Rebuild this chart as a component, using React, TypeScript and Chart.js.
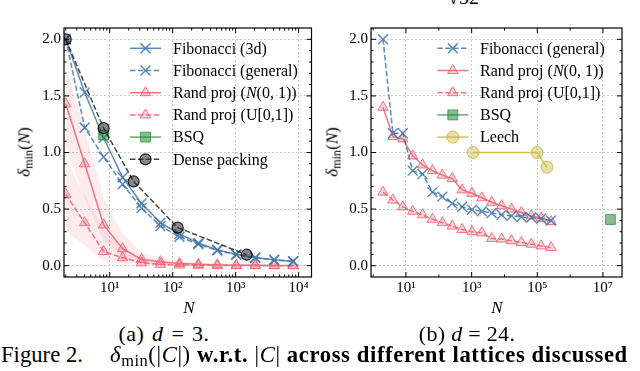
import React, { useEffect, useRef } from 'react';
import { Chart, registerables } from 'chart.js';
Chart.register(...registerables);

// ---------- (a) d = 3 ----------
const nA = [2, 4, 8, 16, 32, 64, 128, 256, 512, 1024, 2048, 4096, 8192];
const fib3dA = [2.0, 1.53, 1.13, 0.78, 0.55, 0.38, 0.28, 0.2, 0.14, 0.1, 0.072, 0.052, 0.04];
const fibGenA = [2.0, 1.22, 0.96, 0.72, 0.51, 0.35, 0.255, 0.19, 0.135, 0.097, 0.068, 0.05, 0.037];
const randNA = [1.43, 0.9, 0.36, 0.15, 0.055, 0.035, 0.02, 0.012, 0.007, 0.004, 0.003, 0.002, 0.001];
const randUA = [0.63, 0.38, 0.125, 0.07, 0.025, 0.012, 0.006, 0.004, 0.002, 0.001, 0.001, 0.0, 0.0];
const randNHiA = [1.75, 1.2, 0.6, 0.28, 0.12, 0.07, 0.045, 0.03, 0.02, 0.015, 0.01, 0.008, 0.006];
const randNLoA = [1.05, 0.6, 0.22, 0.08, 0.02, 0.01, 0.005, 0.002, 0.001, 0, 0, 0, 0];
const randUHiA = [0.95, 0.62, 0.32, 0.16, 0.07, 0.04, 0.02, 0.012, 0.008, 0.005, 0.004, 0.003, 0.002];
const randULoA = [0.3, 0.18, 0.04, 0.02, 0.005, 0.002, 0.001, 0, 0, 0, 0, 0, 0];
const bsqNA = [8];
const bsqA = [1.155];
const denseNA = [2, 8, 24, 120, 1500];
const denseA = [2.0, 1.215, 0.744, 0.336, 0.097];

// ---------- (b) d = 24 ----------
const nB = [2, 4, 8, 16, 32, 64, 128, 256, 512, 1024, 2048, 4096, 8192, 16384, 32768, 65536, 131072, 262144];
const fibGenB = [2.0, 1.17, 1.17, 0.84, 0.81, 0.65, 0.61, 0.55, 0.52, 0.495, 0.48, 0.465, 0.45, 0.44, 0.43, 0.425, 0.415, 0.4];
const randNB = [1.4, 1.14, 1.12, 0.97, 0.89, 0.84, 0.8, 0.77, 0.67, 0.64, 0.6, 0.56, 0.53, 0.5, 0.47, 0.44, 0.42, 0.39];
const randUB = [0.65, 0.58, 0.52, 0.48, 0.45, 0.41, 0.38, 0.35, 0.32, 0.3, 0.29, 0.24, 0.235, 0.22, 0.205, 0.19, 0.175, 0.16];
const bsqNB = [16777216];
const bsqB = [0.408];
const leechNB = [1104, 98280, 196560];
const leechB = [1.0, 1.0, 0.87];

// ---------- ticks ----------
const yTickVals = [0, 0.5, 1.0, 1.5, 2.0];
const yTickLabels = ['0.0', '0.5', '1.0', '1.5', '2.0'];
const xTickValsA = [10, 100, 1000, 10000];
const xTickLabelsA = ['10¹', '10²', '10³', '10⁴'];
const xTickValsB = [10, 1e3, 1e5, 1e7];
const xTickLabelsB = ['10¹', '10³', '10⁵', '10⁷'];
const xMinorA: number[] = [];
for (const d of [1, 10, 100, 1000, 10000]) for (let m = 2; m <= 9; m++) xMinorA.push(d * m);
const xMinorB = [1, 100, 1e4, 1e6];
const yMinor: number[] = [];
for (let k = 1; k < 21; k++) if (k % 5 !== 0) yMinor.push(k / 10);

// ---------- styles ----------
const FONT = '"Liberation Serif", "Times New Roman", serif';
const BLUE = 'rgba(68,119,170,0.85)';
const RED = 'rgba(238,102,119,0.9)';
const RED_FILL = 'rgba(238,102,119,0.28)';
const BAND = 'rgba(238,102,119,0.12)';
const GREEN = 'rgba(34,136,51,0.7)';
const GREEN_FILL = 'rgba(34,136,51,0.55)';
const YEL = 'rgba(204,187,68,0.9)';
const YEL_FILL = 'rgba(204,187,68,0.45)';
const BLACK = 'rgba(0,0,0,0.72)';
const DASH = [5.5, 2.4];

type St = { color: string; dash: number[]; marker: string; r: number; fill: string; border: string; bw: number };
const S: Record<string, St> = {
  fib3d: { color: BLUE, dash: [], marker: 'crossRot', r: 7, fill: BLUE, border: BLUE, bw: 1.5 },
  fibGen: { color: BLUE, dash: DASH, marker: 'crossRot', r: 7, fill: BLUE, border: BLUE, bw: 1.5 },
  randN: { color: RED, dash: [], marker: 'triangle', r: 6, fill: RED_FILL, border: RED, bw: 1 },
  randU: { color: RED, dash: DASH, marker: 'triangle', r: 6, fill: RED_FILL, border: RED, bw: 1 },
  bsq: { color: GREEN, dash: [], marker: 'rect', r: 7, fill: GREEN_FILL, border: GREEN, bw: 1 },
  dense: { color: BLACK, dash: DASH, marker: 'circle', r: 5.5, fill: 'rgba(40,40,40,0.55)', border: 'rgba(0,0,0,0.85)', bw: 1.2 },
  leech: { color: YEL, dash: [], marker: 'circle', r: 6, fill: YEL_FILL, border: YEL, bw: 1 },
};

function series(xs: number[], ys: number[], st: St) {
  return {
    data: xs.map((x, i) => ({ x, y: ys[i] })),
    borderColor: st.color,
    borderWidth: 1.5,
    borderDash: st.dash,
    pointStyle: st.marker,
    pointRadius: st.r,
    pointHoverRadius: st.r,
    pointBorderColor: st.border,
    pointBackgroundColor: st.fill,
    pointBorderWidth: st.bw,
    fill: false,
    tension: 0,
  };
}
function band(xs: number[], hi: number[], lo: number[]) {
  return [
    { data: xs.map((x, i) => ({ x, y: hi[i] })), borderColor: 'rgba(0,0,0,0)', borderWidth: 1, pointRadius: 0, fill: false },
    { data: xs.map((x, i) => ({ x, y: lo[i] })), borderColor: 'rgba(0,0,0,0)', borderWidth: 1, pointRadius: 0, fill: '-1', backgroundColor: BAND },
  ];
}

type Run = { t: string; it?: boolean };
function drawMarker(ctx: CanvasRenderingContext2D, st: St, x: number, y: number) {
  ctx.save();
  ctx.setLineDash([]);
  ctx.lineWidth = st.bw;
  ctx.strokeStyle = st.border;
  ctx.fillStyle = st.fill;
  ctx.beginPath();
  const r = st.r;
  if (st.marker === 'crossRot') {
    const d = r * Math.SQRT1_2;
    ctx.moveTo(x - d, y - d); ctx.lineTo(x + d, y + d);
    ctx.moveTo(x - d, y + d); ctx.lineTo(x + d, y - d);
    ctx.stroke();
  } else if (st.marker === 'triangle') {
    ctx.moveTo(x, y - r);
    ctx.lineTo(x + r * Math.sin((2 * Math.PI) / 3), y - r * Math.cos((2 * Math.PI) / 3));
    ctx.lineTo(x + r * Math.sin((4 * Math.PI) / 3), y - r * Math.cos((4 * Math.PI) / 3));
    ctx.closePath(); ctx.fill(); ctx.stroke();
  } else if (st.marker === 'rect') {
    const s = r * Math.SQRT1_2;
    ctx.rect(x - s, y - s, 2 * s, 2 * s); ctx.fill(); ctx.stroke();
  } else {
    ctx.arc(x, y, r, 0, Math.PI * 2); ctx.fill(); ctx.stroke();
  }
  ctx.restore();
}
function drawRuns(ctx: CanvasRenderingContext2D, runs: Run[], x: number, y: number, size: number) {
  ctx.save();
  ctx.fillStyle = '#000';
  ctx.textBaseline = 'alphabetic';
  ctx.textAlign = 'left';
  let cx = x;
  for (const r of runs) {
    ctx.font = `${r.it ? 'italic ' : ''}${size}px ${FONT}`;
    ctx.fillText(r.t, cx, y);
    cx += ctx.measureText(r.t).width;
  }
  ctx.restore();
}

const framePlugin = {
  id: 'frameLegend',
  afterDraw(chart: any, _a: any, o: any) {
    const ctx: CanvasRenderingContext2D = chart.ctx;
    const ca = chart.chartArea;
    const xs = chart.scales.x;
    const ys = chart.scales.y;
    ctx.save();
    ctx.strokeStyle = '#000';
    ctx.lineWidth = 1;
    ctx.setLineDash([]);
    ctx.beginPath();
    const xt = (vals: number[], len: number) => {
      for (const v of vals) {
        const p = xs.getPixelForValue(v);
        if (p <= ca.left + 0.5 || p >= ca.right - 0.5) continue;
        ctx.moveTo(p, ca.bottom); ctx.lineTo(p, ca.bottom - len);
        ctx.moveTo(p, ca.top); ctx.lineTo(p, ca.top + len);
      }
    };
    const yt = (vals: number[], len: number) => {
      for (const v of vals) {
        const p = ys.getPixelForValue(v);
        if (p <= ca.top + 0.5 || p >= ca.bottom - 0.5) continue;
        ctx.moveTo(ca.left, p); ctx.lineTo(ca.left + len, p);
        ctx.moveTo(ca.right, p); ctx.lineTo(ca.right - len, p);
      }
    };
    xt(o.xMajor, 5); xt(o.xMinor, 2.5); yt(o.yMajor, 5); yt(o.yMinor, 2.5);
    ctx.stroke();
    ctx.lineWidth = 1.2;
    ctx.strokeRect(ca.left, ca.top, ca.right - ca.left, ca.bottom - ca.top);
    const L = o.legend;
    L.items.forEach((it: any, i: number) => {
      const y = L.y0 + i * L.dy;
      ctx.save();
      ctx.strokeStyle = it.st.color;
      ctx.lineWidth = 1.5;
      ctx.setLineDash(it.st.dash);
      ctx.beginPath(); ctx.moveTo(L.x0, y); ctx.lineTo(L.x1, y); ctx.stroke();
      ctx.restore();
      drawMarker(ctx, it.st, (L.x0 + L.x1) / 2, y);
      drawRuns(ctx, it.label, L.tx, y + 5.3, 16);
    });
    ctx.restore();
  },
};

const lblFib3d: Run[] = [{ t: 'Fibonacci (3d)' }];
const lblFibGen: Run[] = [{ t: 'Fibonacci (general)' }];
const lblRandN: Run[] = [{ t: 'Rand proj (' }, { t: 'N', it: true }, { t: '(0, 1))' }];
const lblRandU: Run[] = [{ t: 'Rand proj (U[0,1])' }];
const lblBsq: Run[] = [{ t: 'BSQ' }];
const lblDense: Run[] = [{ t: 'Dense packing' }];
const lblLeech: Run[] = [{ t: 'Leech' }];

function makeOptions(p: any) {
  const tickFont = { family: FONT, size: 15 };
  return {
    responsive: false,
    animation: false as const,
    events: [],
    layout: { padding: { left: 0, right: p.padRight, top: 28, bottom: 0 } },
    plugins: {
      legend: { display: false },
      tooltip: { enabled: false },
      frameLegend: p.frame,
    },
    scales: {
      x: {
        type: 'logarithmic',
        min: p.xmin,
        max: p.xmax,
        afterBuildTicks: (s: any) => { s.ticks = p.xTicks.map((v: number) => ({ value: v })); },
        afterFit: (s: any) => { s.height = 23; },
        ticks: {
          autoSkip: false, maxRotation: 0, minRotation: 0, padding: 2, color: '#000', font: tickFont,
          callback: (v: number) => { const i = p.xTicks.indexOf(v); return i >= 0 ? p.xLabels[i] : ''; },
        },
        grid: { color: '#bdbdbd', lineWidth: 0.8, drawTicks: false },
        border: { display: false, dash: [2, 2] },
      },
      y: {
        type: 'linear',
        min: -0.1,
        max: 2.1,
        afterBuildTicks: (s: any) => { s.ticks = yTickVals.map((v) => ({ value: v })); },
        afterFit: (s: any) => { s.width = p.yWidth; },
        ticks: {
          padding: 3, color: '#000', font: tickFont,
          callback: (v: number) => { const i = yTickVals.indexOf(v); return i >= 0 ? yTickLabels[i] : ''; },
        },
        grid: { color: '#bdbdbd', lineWidth: 0.8, drawTicks: false },
        border: { display: false, dash: [2, 2] },
      },
    },
  };
}

export default function App() {
  const refA = useRef<HTMLCanvasElement>(null);
  const refB = useRef<HTMLCanvasElement>(null);

  useEffect(() => {
    const chartA = new Chart(refA.current as HTMLCanvasElement, {
      type: 'line',
      data: {
        datasets: [
          series(denseNA, denseA, S.dense),
          series(bsqNA, bsqA, S.bsq),
          series(nA, fib3dA, S.fib3d),
          series(nA, fibGenA, S.fibGen),
          series(nA, randNA, S.randN),
          series(nA, randUA, S.randU),
          ...band(nA, randNHiA, randNLoA),
          ...band(nA, randUHiA, randULoA),
        ] as any,
      },
      options: makeOptions({
        padRight: 7, yWidth: 64, xmin: 1.878, xmax: 16040,
        xTicks: xTickValsA, xLabels: xTickLabelsA,
        frame: {
          xMajor: xTickValsA, xMinor: xMinorA, yMajor: yTickVals, yMinor,
          legend: {
            x0: 130, x1: 161, tx: 173, y0: 48.3, dy: 22.2,
            items: [
              { st: S.fib3d, label: lblFib3d },
              { st: S.fibGen, label: lblFibGen },
              { st: S.randN, label: lblRandN },
              { st: S.randU, label: lblRandU },
              { st: S.bsq, label: lblBsq },
              { st: S.dense, label: lblDense },
            ],
          },
        },
      }) as any,
      plugins: [framePlugin],
    });

    const chartB = new Chart(refB.current as HTMLCanvasElement, {
      type: 'line',
      data: {
        datasets: [
          series(leechNB, leechB, S.leech),
          series(bsqNB, bsqB, S.bsq),
          series(nB, fibGenB, S.fibGen),
          series(nB, randNB, S.randN),
          series(nB, randUB, S.randU),
        ] as any,
      },
      options: makeOptions({
        padRight: 18, yWidth: 51, xmin: 0.86, xmax: 3.8e7,
        xTicks: xTickValsB, xLabels: xTickLabelsB,
        frame: {
          xMajor: xTickValsB, xMinor: xMinorB, yMajor: yTickVals, yMinor,
          legend: {
            x0: 117.3, x1: 148.3, tx: 160, y0: 48.3, dy: 22.2,
            items: [
              { st: S.fibGen, label: lblFibGen },
              { st: S.randN, label: lblRandN },
              { st: S.randU, label: lblRandU },
              { st: S.bsq, label: lblBsq },
              { st: S.leech, label: lblLeech },
            ],
          },
        },
      }) as any,
      plugins: [framePlugin],
    });

    return () => { chartA.destroy(); chartB.destroy(); };
  }, []);

  const abs = (extra: React.CSSProperties): React.CSSProperties => ({ position: 'absolute', whiteSpace: 'nowrap', lineHeight: 1, ...extra });
  const sub: React.CSSProperties = { fontSize: '0.72em', position: 'relative', top: '0.28em', fontStyle: 'normal' };
  const yLabel = (cx: number) => (
    <div style={abs({ left: cx, top: 152, transform: 'translate(-50%,-50%) rotate(-90deg)', fontSize: 17 })}>
      <i>δ</i><span style={sub}>min</span>(<i>N</i>)
    </div>
  );

  return (
    <div style={{ position: 'fixed', left: 0, top: 0, width: 640, height: 371, background: '#fff', overflow: 'hidden', fontFamily: FONT, color: '#000' }}>
      <div style={abs({ left: 448, top: -13, fontSize: 20 })}>√32</div>
      <canvas ref={refA} width={320} height={300} style={{ position: 'absolute', left: 0, top: 0, width: 320, height: 300 }} />
      <canvas ref={refB} width={320} height={300} style={{ position: 'absolute', left: 320, top: 0, width: 320, height: 300 }} />
      {yLabel(24)}
      {yLabel(332)}
      <div style={abs({ left: 189, top: 307, transform: 'translate(-50%,-50%)', fontSize: 17, fontStyle: 'italic' })}>N</div>
      <div style={abs({ left: 497, top: 307, transform: 'translate(-50%,-50%)', fontSize: 17, fontStyle: 'italic' })}>N</div>
      <div style={abs({ left: 164, top: 334, transform: 'translate(-50%,-50%)', fontSize: 22, letterSpacing: '0.4px', wordSpacing: '2px' })}>
        (a) <i>d</i> = 3.
      </div>
      <div style={abs({ left: 467, top: 334, transform: 'translate(-50%,-50%)', fontSize: 22, letterSpacing: '0.3px' })}>
        (b) <i>d</i> = 24.
      </div>
      <div style={abs({ left: 1, top: 343.7, fontSize: 22.7 })}>Figure 2.</div>
      <div style={abs({ left: 110, top: 343.7, fontSize: 22.7, letterSpacing: '0.6px' })}>
        <i>δ</i><span style={sub}>min</span>(|<i>C</i>|) <b>w.r.t.</b> |<i>C</i>| <b>across different lattices discussed</b>
      </div>
    </div>
  );
}
